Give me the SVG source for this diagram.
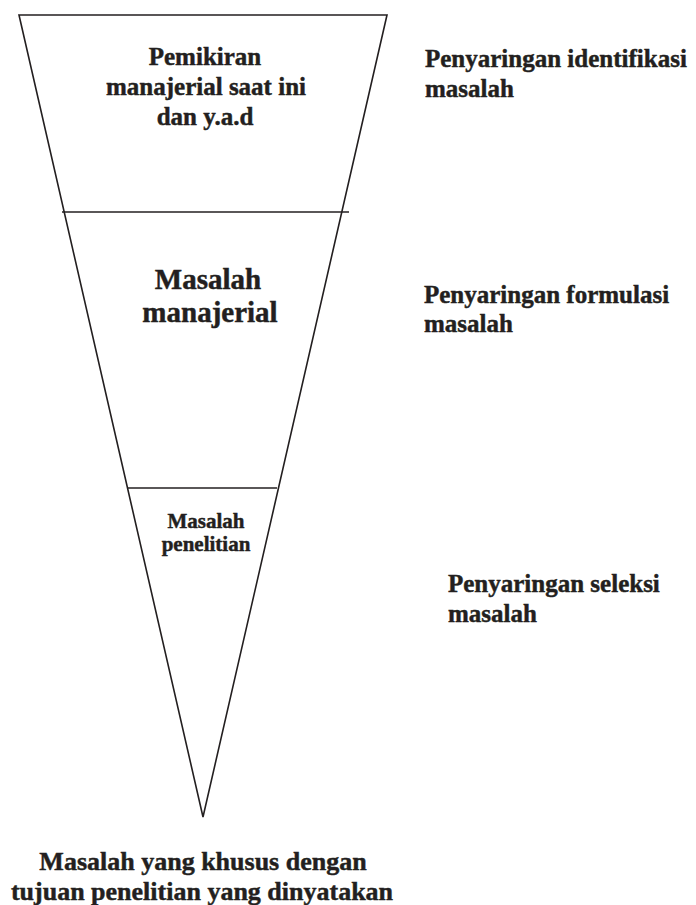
<svg xmlns="http://www.w3.org/2000/svg" width="696" height="905" viewBox="0 0 696 905">
  <style>
    .edge { fill: none; stroke: #231f20; stroke-width: 1.6; stroke-linejoin: miter; }
    .sep { stroke: #231f20; stroke-width: 1.4; }
    text { font-family: "Liberation Serif", "Times New Roman", serif; font-weight: bold; fill: #231f20; stroke: #231f20; stroke-width: 0.45; }
    .mid { text-anchor: middle; }
  </style>

  <rect width="696" height="905" fill="#ffffff"/>

  <!-- inverted funnel and its dividing lines -->
  <g id="connectors">
    <polygon class="edge" points="19,15 387,15 203,817"/>
    <line class="sep" x1="62" y1="212" x2="349" y2="212"/>
    <line class="sep" x1="128" y1="488" x2="277" y2="488"/>
  </g>

  <g id="node-pemikiran">
    <text class="mid" x="205" y="65" font-size="25">Pemikiran</text>
    <text class="mid" x="206" y="95" font-size="25">manajerial saat ini</text>
    <text class="mid" x="205" y="125" font-size="25">dan y.a.d</text>
  </g>

  <g id="node-masalah-manajerial">
    <text class="mid" x="208" y="289" font-size="29">Masalah</text>
    <text class="mid" x="210" y="322" font-size="29">manajerial</text>
  </g>

  <g id="node-masalah-penelitian">
    <text class="mid" x="206" y="528" font-size="21">Masalah</text>
    <text class="mid" x="206" y="551" font-size="21">penelitian</text>
  </g>

  <g id="label-identifikasi">
    <text x="425" y="67" font-size="25">Penyaringan identifikasi</text>
    <text x="425" y="97" font-size="25">masalah</text>
  </g>

  <g id="label-formulasi">
    <text x="424" y="303" font-size="25">Penyaringan formulasi</text>
    <text x="424" y="332" font-size="25">masalah</text>
  </g>

  <g id="label-seleksi">
    <text x="448" y="592" font-size="25">Penyaringan seleksi</text>
    <text x="448" y="622" font-size="25">masalah</text>
  </g>

  <g id="node-hasil">
    <text class="mid" x="203" y="870" font-size="26">Masalah yang khusus dengan</text>
    <text class="mid" x="202" y="900" font-size="26">tujuan penelitian yang dinyatakan</text>
  </g>
</svg>
